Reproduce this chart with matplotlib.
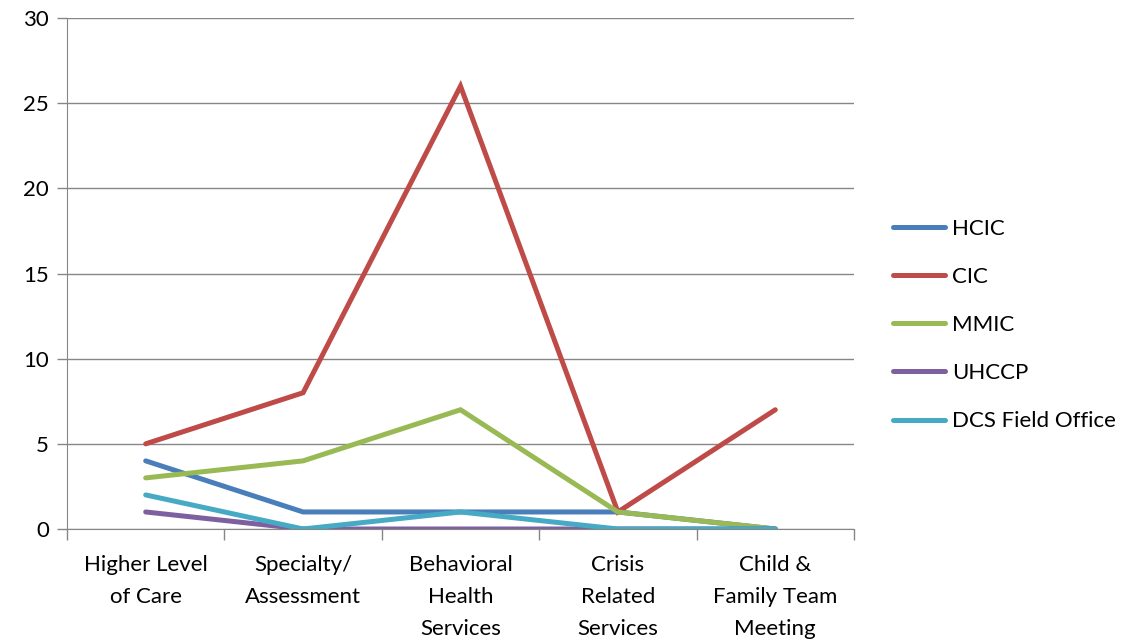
import matplotlib.pyplot as plt
from matplotlib.ticker import FixedLocator

categories = ["Higher Level\nof Care", "Specialty/\nAssessment", "Behavioral\nHealth\nServices",
              "Crisis\nRelated\nServices", "Child &\nFamily Team\nMeeting"]
series_names = ["HCIC", "CIC", "MMIC", "UHCCP", "DCS Field Office"]
hcic = [4, 1, 1, 1, 0]
cic = [5, 8, 26, 1, 7]
mmic = [3, 4, 7, 1, 0]
uhccp = [1, 0, 0, 0, 0]
dcs = [2, 0, 1, 0, 0]
colors = ["#4A7EBB", "#BE4B48", "#98B954", "#7D60A0", "#46AAC5"]

plt.rcParams['font.family'] = ['Lato', 'DejaVu Sans']

fig = plt.figure(figsize=(11.26, 6.44), dpi=100)
ax = fig.add_axes([67/1126, 1-529/644, (854-67)/1126, (529-18)/644])

x = list(range(len(categories)))
for name, vals, c in zip(series_names, [hcic, cic, mmic, uhccp, dcs], colors):
    ax.plot(x, vals, color=c, lw=3.6, label=name, solid_capstyle='round', solid_joinstyle='miter')

ax.set_xlim(-0.5, len(categories) - 0.5)
ax.set_ylim(0, 30)
ax.set_yticks(range(0, 31, 5))
ax.yaxis.grid(True, color="#868686", lw=1)
ax.set_axisbelow(True)

ax.set_xticks(x)
ax.set_xticklabels(categories, fontsize=16, linespacing=1.75)
ax.xaxis.set_minor_locator(FixedLocator([i - 0.5 for i in range(len(categories) + 1)]))
ax.tick_params(axis='x', which='major', length=0, pad=19)
ax.tick_params(axis='x', which='minor', length=8, color="#868686", width=1)
ax.tick_params(axis='y', length=7, color="#868686", width=1, labelsize=16, pad=6)

for s in ["top", "right"]:
    ax.spines[s].set_visible(False)
for s in ["left", "bottom"]:
    ax.spines[s].set_color("#868686")

leg = fig.legend(loc="center left", bbox_to_anchor=(884/1126, 1-325/644), frameon=False,
                 borderaxespad=0, fontsize=16, handlelength=2.35, handletextpad=0.3,
                 labelspacing=1.27)

fig.savefig("out.png", dpi=100)
